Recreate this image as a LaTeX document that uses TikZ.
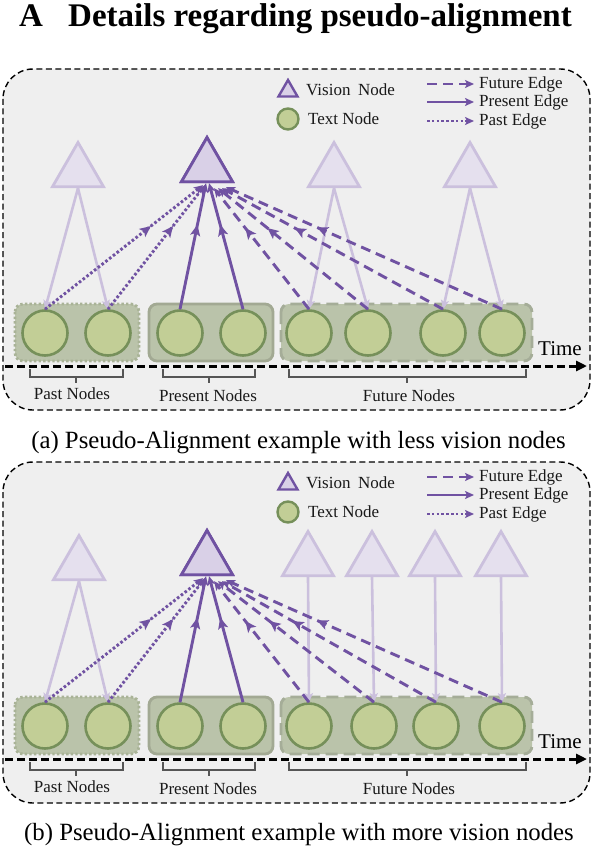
\documentclass[tikz,border=0pt]{standalone}
\usepackage{fontspec}
\setmainfont{Liberation Serif}
\usetikzlibrary{shapes.geometric,arrows.meta,decorations.markings}
\definecolor{panelbg}{HTML}{EFEFEF}
\definecolor{gfill}{HTML}{BAC3AA}
\definecolor{gpast}{HTML}{A9B397}
\definecolor{gpres}{HTML}{A2A993}
\definecolor{gfut}{HTML}{A5AD98}
\definecolor{cfill}{HTML}{C2CE96}
\definecolor{cstroke}{HTML}{76905A}
\definecolor{vpurple}{HTML}{7052A2}
\definecolor{vfill}{HTML}{D9D0E7}
\definecolor{fstroke}{HTML}{CBC0DD}
\definecolor{ffill}{HTML}{E5E0EE}
\definecolor{brk}{HTML}{555555}
\tikzset{
 panelbox/.style={draw=black, line width=1.4pt, dash pattern=on 6pt off 3.5pt, fill=panelbg, rounded corners=30pt},
 grpbox/.style={fill=gfill, rounded corners=8pt, line width=2.8pt},
 grppast/.style={grpbox, draw=gpast, dash pattern=on 2.4pt off 2.2pt},
 grppres/.style={grpbox, draw=gpres},
 grpfut/.style={grpbox, draw=gfut, dash pattern=on 12pt off 6pt},
 tnode/.style={circle, draw=cstroke, fill=cfill, line width=2.6pt, minimum size=45pt, inner sep=0pt},
 vnode/.style={regular polygon, regular polygon sides=3, draw=vpurple, fill=vfill, line width=2.8pt, minimum size=59pt, inner sep=0pt},
 fnode/.style={vnode, draw=fstroke, fill=ffill},
 midarrow/.style={postaction={decorate}, decoration={markings, mark=at position 0.67 with {\arrow{Stealth[length=11pt,width=10pt,inset=2.5pt]}}}},
 endtip/.style={-{Stealth[length=9pt,width=8pt,inset=2pt]}},
 pastline/.style={draw=vpurple, line width=2.9pt, dash pattern=on 2.6pt off 2.2pt, endtip},
 presline/.style={draw=vpurple, line width=2.9pt, endtip},
 futline/.style={draw=vpurple, line width=2.9pt, dash pattern=on 10pt off 6pt, endtip},
 pastedge/.style={pastline, midarrow},
 presedge/.style={presline, midarrow},
 futedge/.style={futline, midarrow},
 fedge/.style={draw=fstroke, line width=2.6pt, endtip},
 timearrow/.style={draw=black, line width=3pt, dash pattern=on 8pt off 4pt, -{Triangle[length=11pt,width=10pt]}},
 bracketline/.style={draw=brk, line width=1.6pt},
 lbl/.style={font=\fontsize{17}{20}\selectfont, text=black!90, inner sep=0pt},
}
\newcommand{\commonpanel}[5]{%
 \draw[panelbox] (3,69) rectangle (590,410);
 \draw[grppast] (15,304) rectangle (139,361);
 \draw[grppres] (149,304) rectangle (273,361);
 \draw[grpfut] (281,304) rectangle (532,361);
 \node[tnode] (#1-p1) at (45,333) {};
 \node[tnode] (#1-p2) at (108,333) {};
 \node[tnode] (#1-r1) at (180,333) {};
 \node[tnode] (#1-r2) at (243,333) {};
 \node[tnode] (#1-f1) at (#2,333) {};
 \node[tnode] (#1-f2) at (#3,333) {};
 \node[tnode] (#1-f3) at (#4,333) {};
 \node[tnode] (#1-f4) at (#5,333) {};
 \coordinate (#1-t0) at (5,366);
 \coordinate (#1-t1) at (587,366);
 \draw[timearrow] (#1-t0) -- (#1-t1);
 \node[font=\fontsize{21}{24}\selectfont, inner sep=0pt] (#1-time) at (560,349) {Time};
 \draw[bracketline] (30,369) -- (30,377) -- (123,377) -- (123,369) (76,377) -- (76,383);
 \draw[bracketline] (163,369) -- (163,377) -- (255,377) -- (255,369) (209,377) -- (209,383);
 \draw[bracketline] (289,369) -- (289,377) -- (526,377) -- (526,369) (407,377) -- (407,383);
 \node[lbl] (#1-lpast) at (72,394) {Past Nodes};
 \node[lbl] (#1-lpres) at (208,396) {Present Nodes};
 \node[lbl] (#1-lfut) at (409,396) {Future Nodes};
 \node[vnode, minimum size=22pt, line width=2.4pt] (#1-legv) at (288,91) {};
 \node[lbl, anchor=west] (#1-legvt) at (306,90) {Vision\hspace{0.45em}Node};
 \node[tnode, minimum size=21pt, line width=2.4pt] (#1-legt) at (288,119) {};
 \node[lbl, anchor=west] (#1-legtt) at (308,119) {Text Node};
 \coordinate (#1-e1a) at (427,84); \coordinate (#1-e1b) at (474,84);
 \coordinate (#1-e2a) at (427,102); \coordinate (#1-e2b) at (474,102);
 \coordinate (#1-e3a) at (427,121); \coordinate (#1-e3b) at (474,121);
 \draw[futline] (#1-e1a) -- (#1-e1b);
 \draw[presline] (#1-e2a) -- (#1-e2b);
 \draw[pastline] (#1-e3a) -- (#1-e3b);
 \node[lbl, anchor=west] (#1-le1) at (479,84) {Future Edge};
 \node[lbl, anchor=west] (#1-le2) at (479,102) {Present Edge};
 \node[lbl, anchor=west] (#1-le3) at (479,121) {Past Edge};
 \node[vnode] (#1-main) at (207,167) {};
}
\newcommand{\mainedges}[1]{%
 \draw[pastedge] (#1-p1.north) -- ([xshift=-4pt,yshift=-2pt]#1-main.south);
 \draw[pastedge] (#1-p2.north) -- ([xshift=-2pt,yshift=-2pt]#1-main.south);
 \draw[presedge] (#1-r1.north) -- ([xshift=-1pt]#1-main.south);
 \draw[presedge] (#1-r2.north) -- ([xshift=2pt]#1-main.south);
 \draw[futedge] (#1-f1.north) -- ([xshift=7pt,yshift=-5pt]#1-main.south);
 \draw[futedge] (#1-f2.north) -- ([xshift=11pt,yshift=-5pt]#1-main.south);
 \draw[futedge] (#1-f3.north) -- ([xshift=15pt,yshift=-5pt]#1-main.south);
 \draw[futedge] (#1-f4.north) -- ([xshift=19pt,yshift=-4pt]#1-main.south);
 \node[vnode] (#1-main2) at (#1-main) {};
}
\begin{document}
\begin{tikzpicture}[x=1pt,y=-1pt]
\useasboundingbox (0,0) rectangle (592,848);
\node[anchor=base west, inner sep=0pt, font=\fontsize{33}{38}\selectfont\bfseries] (titleA) at (19,27) {A};
\node[anchor=base west, inner sep=0pt, font=\fontsize{33}{38}\selectfont\bfseries] (title) at (68,27) {Details regarding pseudo-alignment};
% panel a
\commonpanel{a}{309}{368}{443}{502}
\node[fnode] (a-v1) at (78,172) {};
\node[fnode] (a-v3) at (334,172) {};
\node[fnode] (a-v4) at (470,172) {};
\draw[fedge] (a-v1.south) -- (a-p1.north);
\draw[fedge] (a-v1.south) -- (a-p2.north);
\draw[fedge] (a-v3.south) -- (a-f1.north);
\draw[fedge] (a-v3.south) -- (a-f2.north);
\draw[fedge] (a-v4.south) -- (a-f3.north);
\draw[fedge] (a-v4.south) -- (a-f4.north);
\mainedges{a}
\node[anchor=base, inner sep=0pt, font=\fontsize{24.8}{28}\selectfont] (capa) at (298.5,448) {(a) Pseudo-Alignment example with less vision nodes};
% panel b
\begin{scope}[yshift=-393pt]
\commonpanel{b}{309}{374}{436}{502}
\node[fnode] (b-v1) at (79,172) {};
\node[fnode] (b-v3) at (308,168) {};
\node[fnode] (b-v4) at (372,168) {};
\node[fnode] (b-v5) at (435,168) {};
\node[fnode] (b-v6) at (501,168) {};
\draw[fedge] (b-v1.south) -- (b-p1.north);
\draw[fedge] (b-v1.south) -- (b-p2.north);
\draw[fedge] (b-v3.south) -- (b-f1.north);
\draw[fedge] (b-v4.south) -- (b-f2.north);
\draw[fedge] (b-v5.south) -- (b-f3.north);
\draw[fedge] (b-v6.south) -- (b-f4.north);
\mainedges{b}
\end{scope}
\node[anchor=base, inner sep=0pt, font=\fontsize{24.8}{28}\selectfont] (capb) at (299,840) {(b) Pseudo-Alignment example with more vision nodes};
\end{tikzpicture}
\end{document}
